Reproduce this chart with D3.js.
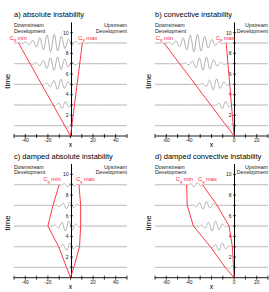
<!DOCTYPE html>
<html lang="en">
<head>
<meta charset="UTF-8">
<title>Wave packet instability</title>
<script src="https://d3js.org/d3.v7.min.js"></script>
<style>
    body { margin: 0; background: #fff; }
    svg text { font-family: "Liberation Sans", Arial, sans-serif; }
    .title { font-size: 7.5px; }
    .note { font-size: 5.3px; fill: #222; }
    .tickLabel { font-size: 5px; fill: #222; }
    .cg { font-size: 5.8px; fill: #f23; }
    .axisTitle { font-size: 7px; }
    .timeTitle { font-size: 8px; }
</style>
</head>
<body>
<svg width="269" height="292"></svg>
<script>
    const titles = ["a) absolute instability", "b) convective instability",
        "c) damped absolute instability", "d) damped convective instability"];
    const xDomains = [[-50, 50], [-70, 30], [-50, 50], [-70, 30]];
    const xTickLabels = [[-40, -20, 20, 40], [-60, -40, 0, 20], [-40, -20, 20, 40], [-60, -40, 0, 20]];
    const yTickLabels = [2, 4, 6, 8, 10];
    const packetTimes = [1, 3, 5, 7, 9];

    // group velocity bounds, [x, time]
    const cgMin = [
        [[0, 0], [-46, 9]],
        [[0, 0], [-62, 9]],
        [[0, 0], [-3.5, 1], [-10.5, 3], [-20, 5], [-15.5, 7], [-10, 9]],
        [[0, 0], [-8, 1], [-21, 3], [-36, 5], [-41.5, 7], [-42, 9]]
    ];
    const cgMax = [
        [[0, 0], [10.5, 9]],
        [[0, 0], [-7, 9]],
        [[0, 0], [3, 1], [8, 3], [9, 5], [9, 7], [7.5, 9]],
        [[0, 0], [-0.5, 1], [-1.5, 3], [-4.5, 5], [-15, 7], [-28, 9]]
    ];

    // wave packets at t = 1,3,5,7,9: centre, half width, amplitude (time units)
    const packetCentre = [[-1, -6, -10, -13, -16], [-3, -9, -17, -26, -34],
        [-1, -2, -3, -2, -1], [-3, -12, -18, -26, -34]];
    const packetWidth = [[3, 6, 9, 13, 16], [2.5, 5, 8, 11, 15],
        [2.5, 6, 8, 7, 5], [2.5, 6, 8, 7.5, 5]];
    const packetAmp = [[0.18, 0.35, 0.5, 0.65, 0.85], [0.18, 0.38, 0.55, 0.65, 0.85],
        [0.14, 0.38, 0.5, 0.33, 0.22], [0.17, 0.38, 0.5, 0.38, 0.22]];
    const waveLength = 6.4;

    // layout
    const colLeft = [14, 155, 14, 155];
    const rowBase = [136, 136, 277.7, 277.7];
    const plotW = 113, unitH = 10.33;
    const cgMinLabel = [[9.5, 39.5], [155.7, 39.5], [43.3, 181.3], [175.7, 181.3]];
    const cgMaxLabel = [[78.3, 39.5], [215.7, 39.5], [76, 181.3], [198, 181.3]];

    const red = "#f23", grey = "#999";
    const svg = d3.select("svg");

    titles.forEach(function (title, i) {
        const x = d3.scaleLinear().domain(xDomains[i]).range([colLeft[i], colLeft[i] + plotW]);
        const y = d3.scaleLinear().domain([0, 11]).range([rowBase[i], rowBase[i] - 11 * unitH]);
        const g = svg.append("g");
        const top = rowBase[i] - 11 * unitH;

        g.append("text").attr("class", "title")
            .attr("x", colLeft[i]).attr("y", top - 5.5).text(title);

        g.append("text").attr("class", "note").attr("x", colLeft[i]).attr("y", top + 4.5).text("Downstream");
        g.append("text").attr("class", "note").attr("x", colLeft[i]).attr("y", top + 10.2).text("Development");
        g.append("text").attr("class", "note").attr("text-anchor", "end")
            .attr("x", colLeft[i] + plotW).attr("y", top + 4.5).text("Upstream");
        g.append("text").attr("class", "note").attr("text-anchor", "end")
            .attr("x", colLeft[i] + plotW).attr("y", top + 10.2).text("Development");

        // horizontal lines carrying the wave packets
        const line = d3.line().x(d => x(d[0])).y(d => y(d[1]));
        const xs = d3.range(xDomains[i][0], xDomains[i][1] + 0.01, 0.2);
        packetTimes.forEach(function (t, k) {
            const c = packetCentre[i][k], w = packetWidth[i][k], a = packetAmp[i][k];
            const pts = xs.map(v => [v, t + a * Math.exp(-Math.pow((v - c) / w, 2))
                * Math.sin(2 * Math.PI * (v - c) / waveLength)]);
            g.append("path").attr("d", line(pts))
                .attr("fill", "none").attr("stroke", grey).attr("stroke-width", 0.8);
        });

        // axes
        const x0 = Math.round(x(0)) + 0.5;
        g.append("line").attr("x1", x(xDomains[i][0])).attr("x2", x(xDomains[i][1]))
            .attr("y1", y(0)).attr("y2", y(0)).attr("stroke", "#000").attr("stroke-width", 0.9);
        g.append("line").attr("x1", x0).attr("x2", x0)
            .attr("y1", y(0)).attr("y2", y(11)).attr("stroke", "#000").attr("stroke-width", 1);

        g.selectAll(".xt").data(d3.range(xDomains[i][0], xDomains[i][1] + 1, 10)).enter()
            .append("line")
            .attr("x1", d => x(d)).attr("x2", d => x(d))
            .attr("y1", y(0) - 2).attr("y2", y(0) + 2)
            .attr("stroke", "#000").attr("stroke-width", 0.8);
        g.selectAll(".xl").data(xTickLabels[i]).enter()
            .append("text").attr("class", "tickLabel").attr("text-anchor", "middle")
            .attr("x", d => x(d)).attr("y", y(0) + 6).text(d => d);

        g.selectAll(".yt").data(d3.range(1, 11)).enter()
            .append("line")
            .attr("x1", x0 - 1.5).attr("x2", x0 + 1.5)
            .attr("y1", d => y(d)).attr("y2", d => y(d))
            .attr("stroke", "#000").attr("stroke-width", 0.7);
        g.selectAll(".yl").data(yTickLabels).enter()
            .append("text").attr("class", "tickLabel").attr("text-anchor", "end")
            .attr("x", x0 - 3).attr("y", d => y(d) + 1.8).text(d => d);

        const xMid = (xDomains[i][0] + xDomains[i][1]) / 2;
        g.append("text").attr("class", "axisTitle").attr("text-anchor", "middle")
            .attr("x", x(xMid)).attr("y", y(0) + 11).text("x");
        g.append("text").attr("class", "timeTitle").attr("text-anchor", "middle")
            .attr("transform", "translate(" + (colLeft[i] - 4.5) + "," + y(5.3) + ") rotate(-90)")
            .text("time");

        // group velocity lines
        [cgMin[i], cgMax[i]].forEach(function (pts) {
            g.append("path").attr("d", line(pts))
                .attr("fill", "none").attr("stroke", red).attr("stroke-width", 0.9);
        });

        [[cgMinLabel[i], " min"], [cgMaxLabel[i], " max"]].forEach(function (lab) {
            const tx = g.append("text").attr("class", "cg").attr("x", lab[0][0]).attr("y", lab[0][1]);
            tx.append("tspan").text("C");
            tx.append("tspan").attr("font-size", "4px").attr("dy", 1.2).text("g");
            tx.append("tspan").attr("dy", -1.2).text(lab[1]);
        });
    });
</script>
</body>
</html>
